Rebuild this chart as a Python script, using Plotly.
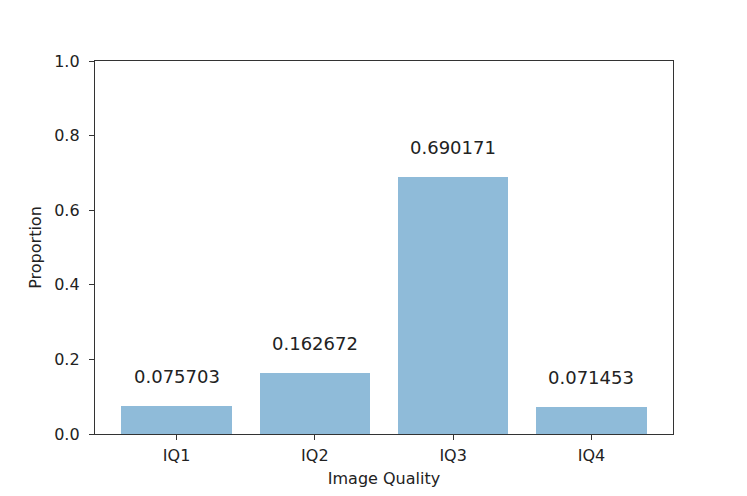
import plotly.graph_objects as go

# values
categories = ['IQ1', 'IQ2', 'IQ3', 'IQ4']
proportions = [0.075703, 0.162672, 0.690171, 0.071453]
y_ticks = [0.0, 0.2, 0.4, 0.6, 0.8, 1.0]

bar_color = 'rgba(31,119,180,0.5)'
text_color = '#222222'
font = dict(family='DejaVu Sans', size=16, color=text_color)

fig = go.Figure()
fig.add_trace(go.Bar(x=list(range(len(categories))), y=proportions, width=0.8,
                     marker={'color': bar_color, 'line': {'width': 0}}))

# value labels above each bar
for i, v in enumerate(proportions):
    fig.add_annotation(x=i, y=v + 0.079, text=f'{v:.6f}', showarrow=False,
                       xref='x', yref='y', yanchor='middle',
                       font=dict(family='DejaVu Sans', size=18, color=text_color))

axis_common = dict(showline=True, linecolor='#333333', linewidth=1.3, mirror=True,
                   ticks='outside', ticklen=5, tickcolor='#333333', tickwidth=1.3,
                   showgrid=False, zeroline=False, automargin=False,
                   tickfont=dict(family='DejaVu Sans', size=16, color=text_color))

# the page body adds an 8px offset, so margins are shifted to compensate
fig.update_layout(
    width=747, height=496,
    margin=dict(l=87, r=82, t=53, b=70),
    plot_bgcolor='white', paper_bgcolor='white',
    font=font, showlegend=False, bargap=0,
    xaxis=dict(range=[-0.59, 3.59], tickvals=list(range(len(categories))), ticktext=categories,
               ticklabelstandoff=2,
               title=dict(text='Image Quality', standoff=8,
                          font=dict(family='DejaVu Sans', size=16, color=text_color)),
               **axis_common),
    yaxis=dict(range=[0, 1], tickvals=y_ticks, ticktext=[f'{t:.1f}' for t in y_ticks],
               ticklabelstandoff=6,
               title=dict(text='Proportion', standoff=8,
                          font=dict(family='DejaVu Sans', size=16, color=text_color)),
               **axis_common),
)

fig.write_html("out.html")
